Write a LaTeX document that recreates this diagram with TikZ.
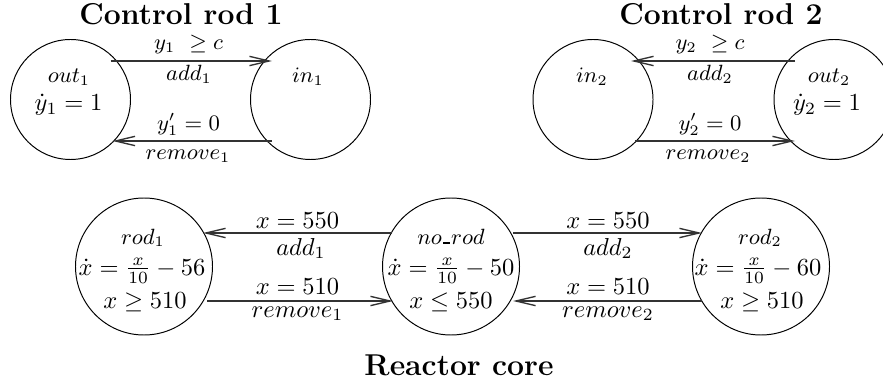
\documentclass[tikz,border=0pt]{standalone}
\usepackage{fontspec}
\usetikzlibrary{arrows.meta}
\newcommand\pxu{0.408pt}
\newcommand\usbar{\mbox{\kern0.06em\rule{0.3em}{0.1em}\kern0.06em}}
\begin{document}
\begin{tikzpicture}[x=0.408pt,y=-0.408pt,
  state/.style={circle,draw,line width=0.4pt,inner sep=0pt},
  smallst/.style={state,minimum size=120*\pxu},
  bigst/.style={state,minimum size=137*\pxu},
  txt/.style={anchor=base,inner sep=0pt,font=\fontsize{10}{12}\selectfont},
  nm/.style={anchor=base,inner sep=0pt,font=\fontsize{9}{11}\selectfont},
  ttl/.style={anchor=base,inner sep=0pt,font=\fontsize{12.3}{15}\selectfont\bfseries},
  tr/.style={draw=black!80,line width=0.55pt,-{Straight Barb[length=8pt,width=3.8pt]}}
]
\useasboundingbox (0,0) rectangle (883,383);
% titles
\node[ttl] (t1) at (181,25) {Control rod 1};
\node[ttl] (t2) at (721,25) {Control rod 2};
\node[ttl] (t3) at (459,375) {Reactor core};
% states
\node[smallst] (out1) at (70.5,99.5) {};
\node[smallst] (in1) at (310.5,99.5) {};
\node[smallst] (in2) at (593,99.5) {};
\node[smallst] (out2) at (834,99.5) {};
\node[bigst] (rod1) at (144,266.5) {};
\node[bigst] (norod) at (451,266.5) {};
\node[bigst] (rod2) at (761,266.5) {};
% state texts
\node[nm] (out1a) at (69,83) {$out_1$};
\node[txt] (out1b) at (68.5,111) {$\dot y_1 = 1$};
\node[nm] (in1a) at (308,83) {$in_1$};
\node[nm] (in2a) at (592,83) {$in_2$};
\node[nm] (out2a) at (829,83) {$out_2$};
\node[txt] (out2b) at (827,111) {$\dot y_2 = 1$};
\node[nm] (rod1a) at (143,244) {$rod_1$};
\node[txt] (rod1b) at (142,275) {$\dot x = \frac{x}{10} - 56$};
\node[txt] (rod1c) at (145,308) {$x \geq 510$};
\node[nm] (noroda) at (451,244) {$no\usbar rod$};
\node[txt] (norodb) at (451,275) {$\dot x = \frac{x}{10} - 50$};
\node[txt] (norodc) at (451,308) {$x \leq 550$};
\node[nm] (rod2a) at (760,244) {$rod_2$};
\node[txt] (rod2b) at (758,275) {$\dot x = \frac{x}{10} - 60$};
\node[txt] (rod2c) at (762,308) {$x \geq 510$};
% transitions
\draw[tr] ([shift={(40,-38.5)}]out1.center) -- ([shift={(-38.5,-38.5)}]in1.center);
\draw[tr] ([shift={(-38.5,41.5)}]in1.center) -- ([shift={(42,41.5)}]out1.center);
\draw[tr] ([shift={(-39,-38.5)}]out2.center) -- ([shift={(38,-38.5)}]in2.center);
\draw[tr] ([shift={(42,41.5)}]in2.center) -- ([shift={(-39,41.5)}]out2.center);
\draw[tr] ([shift={(-59,-33.5)}]norod.center) -- ([shift={(59,-33.5)}]rod1.center);
\draw[tr] ([shift={(63,34.5)}]rod1.center) -- ([shift={(-58,34.5)}]norod.center);
\draw[tr] ([shift={(62,-33.5)}]norod.center) -- ([shift={(-59,-33.5)}]rod2.center);
\draw[tr] ([shift={(-59,34.5)}]rod2.center) -- ([shift={(62,34.5)}]norod.center);
% transition labels
\node[nm] (l1a) at (188.5,50) {$y_1\ \geq c$};
\node[nm] (l1b) at (189,81) {$add_1$};
\node[nm] (l1c) at (188.5,131) {$y_1' = 0$};
\node[nm] (l1d) at (188,160) {$remove_1$};
\node[nm] (l2a) at (710,50) {$y_2\ \geq c$};
\node[nm] (l2b) at (710,81) {$add_2$};
\node[nm] (l2c) at (710,131) {$y_2' = 0$};
\node[nm] (l2d) at (708,160) {$remove_2$};
\node[txt] (l3a) at (297.5,228) {$x = 550$};
\node[txt] (l3b) at (301,255) {$add_1$};
\node[txt] (l3c) at (297.5,294) {$x = 510$};
\node[txt] (l3d) at (297.5,317) {$remove_1$};
\node[txt] (l4a) at (608,228) {$x = 550$};
\node[txt] (l4b) at (608,255) {$add_2$};
\node[txt] (l4c) at (608,294) {$x = 510$};
\node[txt] (l4d) at (608,317) {$remove_2$};
\end{tikzpicture}
\end{document}
